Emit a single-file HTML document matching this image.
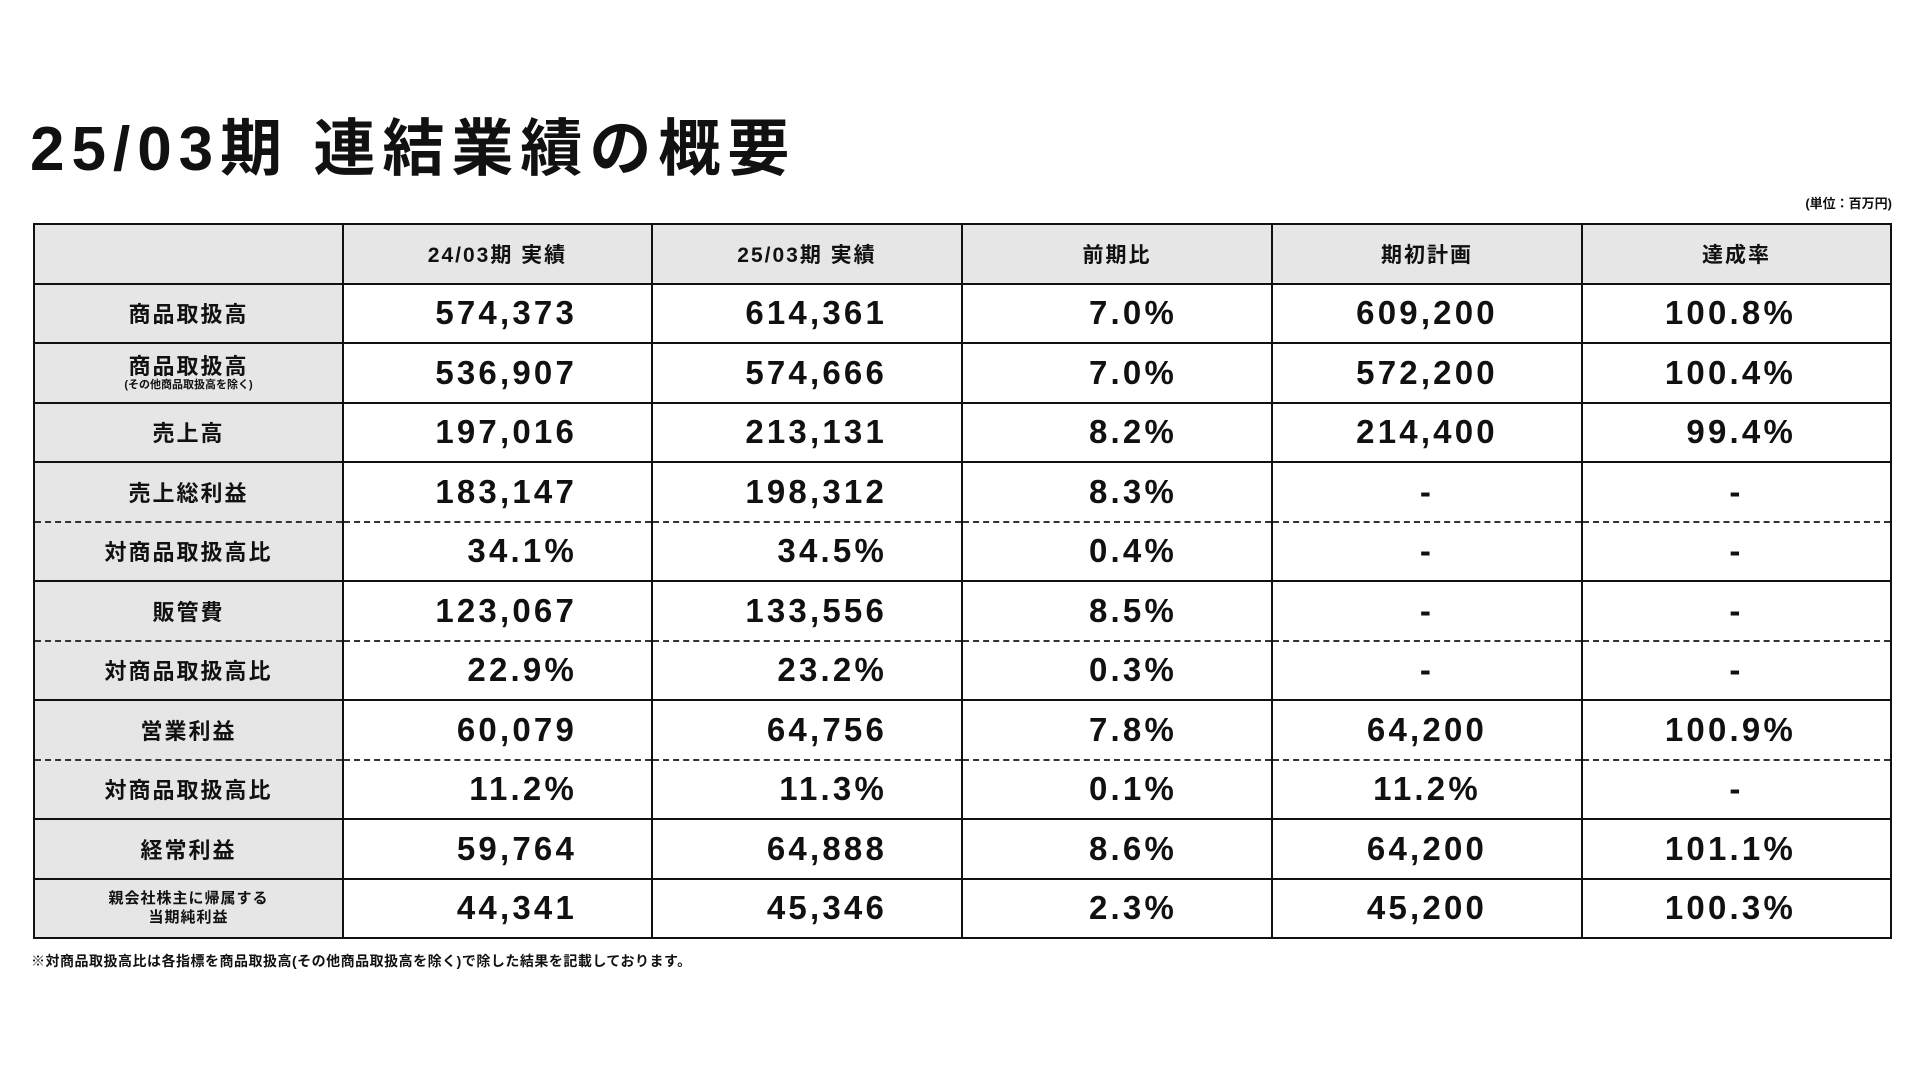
<!DOCTYPE html>
<html><head><meta charset="utf-8"><style>
body{margin:0;width:1920px;height:1080px;background:#fff;font-family:"Liberation Sans","Noto Sans CJK JP",sans-serif;position:relative;overflow:hidden;color:#111}
.title{position:absolute;left:30px;top:98px;font-size:62px;font-weight:bold;letter-spacing:7px;white-space:nowrap}
.unit{position:absolute;right:28px;top:193px;font-size:13px;font-weight:bold}
table{position:absolute;left:33px;top:223px;width:1859px;border-collapse:collapse;table-layout:fixed}
td{border:2px solid #111;height:57.5px;padding:0;font-size:33px;font-weight:bold;text-align:center;vertical-align:middle;letter-spacing:3.2px}
tr.h td{background:#e6e6e6;font-size:21px;letter-spacing:2px}
td.l{background:#e6e6e6;font-size:22px;letter-spacing:2px}
td.r{text-align:right;padding-right:74px}
td.r2{text-align:right;padding-right:94px}
tr.d td{border-bottom:2px dashed #333}
tr.u td{border-top:2px dashed #333}
.sm{font-size:11px;display:block;line-height:12px;letter-spacing:0}
td.l2{font-size:15px;line-height:19px;letter-spacing:1px}
.foot{position:absolute;left:31px;top:951px;font-size:14px;font-weight:bold;letter-spacing:0.5px}
</style></head><body>
<div class="title">25/03期 連結業績の概要</div>
<div class="unit">(単位：百万円)</div>
<table>
<colgroup><col style="width:309px"><col style="width:309px"><col style="width:310px"><col style="width:310px"><col style="width:310px"><col></colgroup>
<tr class="h"><td></td><td>24/03期 実績</td><td>25/03期 実績</td><td>前期比</td><td>期初計画</td><td>達成率</td></tr>
<tr><td class="l">商品取扱高</td><td class="r">574,373</td><td class="r">614,361</td><td class="r2">7.0%</td><td>609,200</td><td class="r2">100.8%</td></tr>
<tr><td class="l" style="line-height:24px">商品取扱高<span class="sm">(その他商品取扱高を除く)</span></td><td class="r">536,907</td><td class="r">574,666</td><td class="r2">7.0%</td><td>572,200</td><td class="r2">100.4%</td></tr>
<tr><td class="l">売上高</td><td class="r">197,016</td><td class="r">213,131</td><td class="r2">8.2%</td><td>214,400</td><td class="r2">99.4%</td></tr>
<tr class="d"><td class="l">売上総利益</td><td class="r">183,147</td><td class="r">198,312</td><td class="r2">8.3%</td><td>-</td><td>-</td></tr>
<tr class="u"><td class="l">対商品取扱高比</td><td class="r">34.1%</td><td class="r">34.5%</td><td class="r2">0.4%</td><td>-</td><td>-</td></tr>
<tr class="d"><td class="l">販管費</td><td class="r">123,067</td><td class="r">133,556</td><td class="r2">8.5%</td><td>-</td><td>-</td></tr>
<tr class="u"><td class="l">対商品取扱高比</td><td class="r">22.9%</td><td class="r">23.2%</td><td class="r2">0.3%</td><td>-</td><td>-</td></tr>
<tr class="d"><td class="l">営業利益</td><td class="r">60,079</td><td class="r">64,756</td><td class="r2">7.8%</td><td>64,200</td><td class="r2">100.9%</td></tr>
<tr class="u"><td class="l">対商品取扱高比</td><td class="r">11.2%</td><td class="r">11.3%</td><td class="r2">0.1%</td><td>11.2%</td><td>-</td></tr>
<tr><td class="l">経常利益</td><td class="r">59,764</td><td class="r">64,888</td><td class="r2">8.6%</td><td>64,200</td><td class="r2">101.1%</td></tr>
<tr><td class="l l2">親会社株主に帰属する<br>当期純利益</td><td class="r">44,341</td><td class="r">45,346</td><td class="r2">2.3%</td><td>45,200</td><td class="r2">100.3%</td></tr>
</table>
<div class="foot">※対商品取扱高比は各指標を商品取扱高(その他商品取扱高を除く)で除した結果を記載しております。</div>
</body></html>
